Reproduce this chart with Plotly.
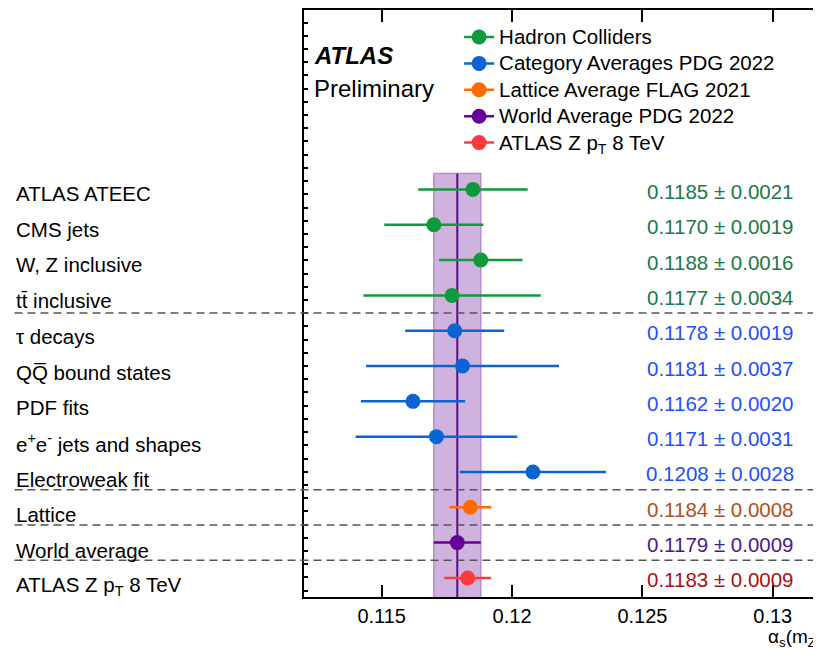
import plotly.graph_objects as go

# ---------------- data ----------------
labels = [
    "ATLAS ATEEC", "CMS jets", "W, Z inclusive", "tt\u0304 inclusive",
    "\u03c4 decays", "QQ\u0305 bound states", "PDF fits",
    "e<sup>+</sup>e<sup>-</sup> jets and shapes", "Electroweak fit",
    "Lattice", "World average", "ATLAS Z p<sub>T</sub> 8 TeV",
]
values = [0.1185, 0.1170, 0.1188, 0.1177,
          0.1178, 0.1181, 0.1162, 0.1171, 0.1208,
          0.1184, 0.1179, 0.1183]
errors = [0.0021, 0.0019, 0.0016, 0.0034,
          0.0019, 0.0037, 0.0020, 0.0031, 0.0028,
          0.0008, 0.0009, 0.0009]
group_names = ["Hadron Colliders", "Category Averages PDG 2022",
               "Lattice Average FLAG 2021", "World Average PDG 2022",
               "ATLAS Z p<sub>T</sub> 8 TeV"]
group_rows = [[0, 1, 2, 3], [4, 5, 6, 7, 8], [9], [10], [11]]
separators = [3.5, 8.5, 9.5, 10.5]
world_avg = 0.1179
world_err = 0.0009
xticks = [0.115, 0.12, 0.125, 0.13]
xticktext = ["0.115", "0.12", "0.125", "0.13"]

# ---------------- styles ----------------
marker_colors = ["#0f9a3c", "#0a64d2", "#ff6a00", "#660099", "#ff3a3f"]
text_colors = ["#1b7a46", "#1f4fff", "#b0501a", "#4b1a88", "#aa1111"]
FONT = "Liberation Sans, Arial, Helvetica, sans-serif"
TXT = 20.5

fig = go.Figure()

# world-average band and central line
fig.add_shape(type="rect", xref="x", yref="y",
              x0=world_avg - world_err, x1=world_avg + world_err,
              y0=-0.45, y1=11.6, layer="below",
              fillcolor="#cfb3de", line=dict(color="#b88cd4", width=1.5))
fig.add_shape(type="line", xref="x", yref="y",
              x0=world_avg, x1=world_avg, y0=-0.45, y1=11.6, layer="below",
              line=dict(color="#5a0a8a", width=2))

# separators
for s in separators:
    fig.add_shape(type="line", xref="paper", yref="y", x0=-0.56, x1=1.0,
                  y0=s, y1=s, line=dict(color="#555555", width=1.5, dash="8px,5px"))

# data traces
for g, rows in enumerate(group_rows):
    fig.add_trace(go.Scatter(
        x=[values[r] for r in rows], y=rows, mode="markers",
        marker=dict(size=15, color=marker_colors[g]),
        error_x=dict(type="data", array=[errors[r] for r in rows],
                     color=marker_colors[g], thickness=2.5, width=0),
        showlegend=False, hoverinfo="x+y"))

# legend entries
for g, name in enumerate(group_names):
    fig.add_trace(go.Scatter(
        x=[None], y=[None], mode="lines+markers",
        name=f"<span style='font-size:{TXT}px'>{name}</span>",
        marker=dict(size=15, color=marker_colors[g]),
        line=dict(color=marker_colors[g], width=2.5)))

# row labels and values
group_of_row = {}
for g, rows in enumerate(group_rows):
    for r in rows:
        group_of_row[r] = g
for r, lab in enumerate(labels):
    fig.add_annotation(xref="paper", yref="y", x=-0.561, y=r, text=lab,
                       xanchor="left", yanchor="middle", showarrow=False,
                       yshift=-4 - 0.4 * r,
                       font=dict(family=FONT, size=TXT, color="black"))
    fig.add_annotation(xref="paper", yref="y", x=0.951, y=r,
                       text=f"{values[r]:.4f} \u00b1 {errors[r]:.4f}",
                       xanchor="right", yanchor="middle", showarrow=False,
                       yshift=-2,
                       font=dict(family=FONT, size=TXT,
                                 color=text_colors[group_of_row[r]]))

# ATLAS Preliminary
fig.add_annotation(xref="paper", yref="paper", x=0.015, y=0.923,
                   text="<b><i>ATLAS</i></b>", showarrow=False,
                   xanchor="left", yanchor="middle",
                   font=dict(family=FONT, size=24, color="black"))
fig.add_annotation(xref="paper", yref="paper", x=0.015, y=0.866,
                   text="Preliminary", showarrow=False,
                   xanchor="left", yanchor="middle",
                   font=dict(family=FONT, size=24, color="black"))

# axis title
fig.add_annotation(xref="paper", yref="paper", x=0.893, y=-0.046,
                   text="\u03b1<sub>s</sub>(m<sub>Z</sub>)", showarrow=False,
                   xanchor="left", yanchor="top",
                   font=dict(family=FONT, size=19, color="black"))

fig.update_layout(
    width=813, height=641,
    margin=dict(l=296, r=0, t=2, b=52),
    plot_bgcolor="white", paper_bgcolor="white",
    font=dict(family=FONT, size=18, color="black"),
    showlegend=True,
    legend=dict(x=0.30, y=0.985, xanchor="left", yanchor="top",
                bgcolor="rgba(0,0,0,0)", font=dict(family=FONT, size=18),
                itemwidth=30, tracegroupgap=0),
    xaxis=dict(range=[0.11202, 0.13185], tickvals=xticks, ticktext=xticktext,
               ticks="inside", ticklen=12, tickwidth=2, tickcolor="black",
               showline=True, linewidth=2, linecolor="black", mirror="ticks",
               showgrid=False, zeroline=False,
               tickfont=dict(family=FONT, size=20)),
    yaxis=dict(range=[11.54, -5.08], showticklabels=False,
               tick0=-0.235, dtick=0.374, ticks="inside", ticklen=4,
               tickwidth=1.5, tickcolor="black",
               showline=True, linewidth=2, linecolor="black",
               showgrid=False, zeroline=False),
)

fig.write_html("out.html")
